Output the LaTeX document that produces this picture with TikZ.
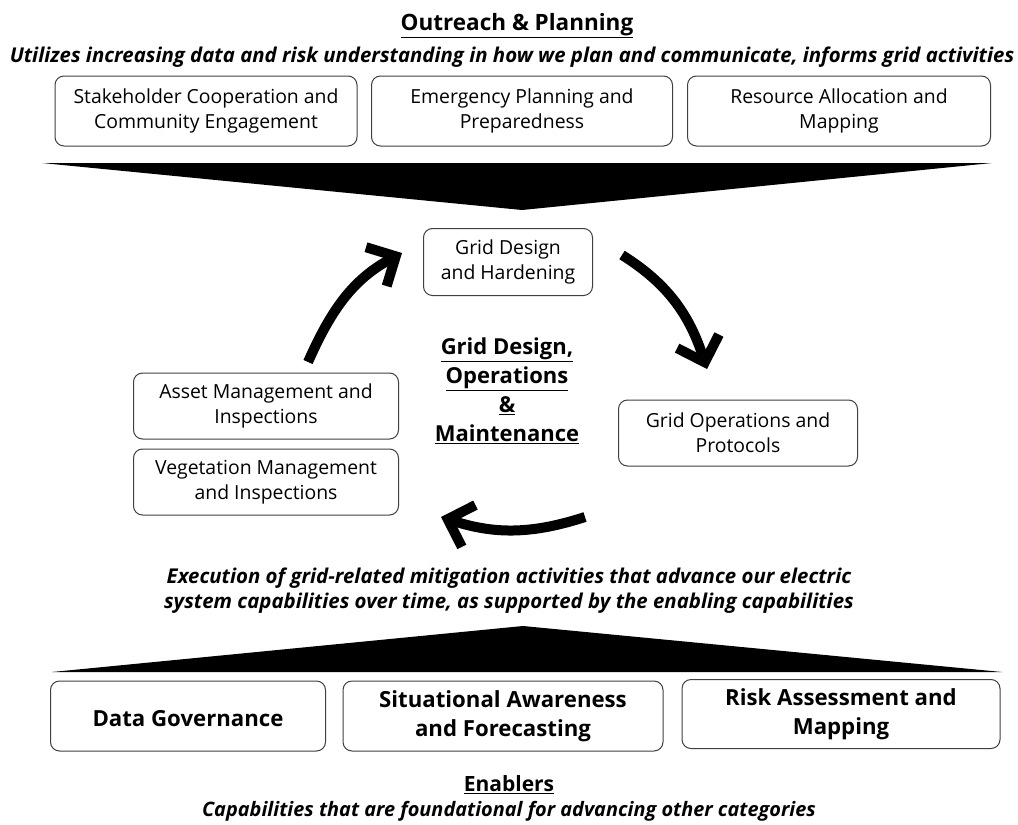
\documentclass[tikz,border=0pt]{standalone}
\usepackage{fontspec}
\setmainfont{Open Sans}
\usetikzlibrary{arrows.meta}
\newcommand{\undl}[1]{\underline{#1}}

\begin{document}
\begin{tikzpicture}[x=1pt,y=-1pt,
  box/.style={draw=black!75,line width=1pt,rounded corners=9pt,align=center,inner sep=2pt,
    font=\fontsize{19.4}{25}\selectfont,execute at begin node={\rule{0pt}{21pt}}},
  bbox/.style={box,font=\fontsize{22.2}{29}\selectfont\bfseries,execute at begin node={\rule{0pt}{22pt}}},
  bigarrow/.style={line width=10pt,-{Straight Barb[length=22pt,width=44pt]}}]
\useasboundingbox[fill=white] (0,0) rectangle (1018,825);
% outreach and planning
\node[font=\fontsize{22.5}{26}\selectfont\bfseries] (optitle) at (517,26) {\undl{Outreach \& Planning}};
\node[font=\fontsize{20.4}{24}\selectfont\bfseries\itshape] (opsub) at (512,57) {Utilizes increasing data and risk understanding in how we plan and communicate, informs grid activities};
\node[box,minimum width=302pt,minimum height=70pt] (stake) at (206,111) {Stakeholder Cooperation and\\Community Engagement};
\node[box,minimum width=301pt,minimum height=70pt] (emerg) at (522,111) {Emergency Planning and\\Preparedness};
\node[box,minimum width=303pt,minimum height=70pt] (resal) at (839,111) {Resource Allocation and\\Mapping};
\fill (42,163) -- (992,163) -- (522,210) -- cycle;
% grid design, operations and maintenance
\node[box,minimum width=169pt,minimum height=67pt] (gdh) at (508,262) {Grid Design\\and Hardening};
\node[box,minimum width=265pt,minimum height=66pt] (asset) at (266,406) {Asset Management and\\Inspections};
\node[box,minimum width=265pt,minimum height=66pt] (veg) at (266,482) {Vegetation Management\\and Inspections};
\node[box,minimum width=239pt,minimum height=66pt] (gop) at (738,433) {Grid Operations and\\Protocols};
\node[font=\fontsize{22}{29}\selectfont\bfseries,align=center] (gdom) at (507,391) {\undl{Grid Design,}\\\undl{Operations}\\\undl{\&}\\\undl{Maintenance}};
\coordinate (up1) at (308,362);
\coordinate (up2) at (402,253);
\coordinate (rt1) at (622,255);
\coordinate (rt2) at (707,369);
\coordinate (bt1) at (585,517);
\coordinate (bt2) at (441,517);
\draw[bigarrow] (up1) to[out=66,in=208] (up2);
\draw[bigarrow] (rt1) to[out=-32,in=108] (rt2);
\draw[bigarrow] (bt1) to[out=198,in=-18] (bt2);
\node[font=\fontsize{20.4}{25}\selectfont\bfseries\itshape,align=center] (exec) at (509,591) {Execution of grid-related mitigation activities that advance our electric\\system capabilities over time, as supported by the enabling capabilities};
% enablers
\fill (52,672) -- (1002,672) -- (523,626) -- cycle;
\node[bbox,minimum width=275pt,minimum height=70pt] (datag) at (188,716) {Data Governance};
\node[bbox,minimum width=320pt,minimum height=70pt] (situ) at (503,716) {Situational Awareness\\and Forecasting};
\node[bbox,minimum width=318pt,minimum height=69pt] (riskm) at (841,714) {Risk Assessment and\\Mapping};
\node[font=\fontsize{21}{24}\selectfont\bfseries] (enab) at (509,785) {\undl{Enablers}};
\node[font=\fontsize{19.9}{22}\selectfont\bfseries\itshape] (ensub) at (509,811) {Capabilities that are foundational for advancing other categories};
\end{tikzpicture}
\end{document}
